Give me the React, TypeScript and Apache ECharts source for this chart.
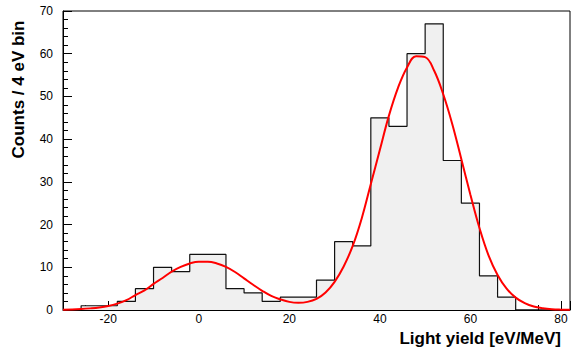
import React, { useEffect, useRef } from "react";
import * as echarts from "echarts";

// Histogram bin lower edges (4 eV bins) and counts
const binEdges = [-26, -22, -18, -14, -10, -6, -2, 2, 6, 10, 14, 18, 22, 26, 30, 34, 38, 42, 46, 50, 54, 58, 62, 66];
const binCounts = [1, 1, 2, 5, 10, 9, 13, 13, 5, 4, 2, 3, 3, 7, 16, 15, 45, 43, 60, 67, 35, 25, 8, 3];
const binWidth = 4;

// Fit curve points
const fitX = [-30, -28, -26, -24, -22, -20, -18, -16, -14, -12, -10, -8, -6, -4, -2, 0, 2, 4, 6, 8, 10, 12, 14, 16, 18, 20, 22, 24, 26, 28, 30, 32, 34, 36, 38, 40, 42, 44, 46, 48, 50, 52, 54, 56, 58, 60, 62, 64, 66, 68, 70, 72, 74, 76, 78, 80, 82];
const fitY = [0.08, 0.12, 0.22, 0.38, 0.6, 0.95, 1.5, 2.3, 3.5, 4.6, 6.1, 7.5, 9.0, 10.1, 10.9, 11.3, 11.3, 10.9, 10.1, 8.9, 7.4, 5.9, 4.5, 3.3, 2.5, 1.9, 1.7, 1.9, 2.6, 4.1, 6.6, 10.2, 15.0, 21.5, 29.5, 37.5, 45.5, 52.0, 56.8, 59.4, 59.2, 56.0, 50.5, 43.5, 35.3, 27.0, 19.2, 12.8, 8.2, 5.0, 2.9, 1.6, 0.8, 0.4, 0.18, 0.08, 0.03];

const xMin = -30;
const xMax = 82;
const yMin = 0;
const yMax = 70;

export default function App() {
  const ref = useRef<HTMLDivElement>(null);
  useEffect(() => {
    if (!ref.current) return;
    const chart = echarts.init(ref.current, undefined, { renderer: "svg" });
    const histData: number[][] = [[xMin, 0]];
    binEdges.forEach((e, i) => histData.push([e, binCounts[i]]));
    histData.push([binEdges[binEdges.length - 1] + binWidth, 0]);
    histData.push([xMax, 0]);
    const fitData = fitX.map((x, i) => [x, fitY[i]]);
    const font = "'Liberation Sans', Arial, Helvetica, sans-serif";
    chart.setOption({
      animation: false,
      backgroundColor: "#ffffff",
      grid: {
        left: 63,
        right: 1,
        top: 11,
        bottom: 38,
        show: true,
        borderColor: "#000",
        borderWidth: 1,
        backgroundColor: "transparent",
      },
      xAxis: [
        {
          type: "value",
          min: xMin,
          max: xMax,
          interval: 5,
          axisLine: { show: true, onZero: false, lineStyle: { color: "#000", width: 1 } },
          axisTick: { show: true, inside: true, length: 5, lineStyle: { color: "#000" } },
          splitLine: { show: false },
          axisLabel: {
            margin: 3,
            color: "#000",
            fontSize: 12,
            fontFamily: font,
            formatter: (v: number) => (v % 20 === 0 ? String(v) : ""),
          },
        },
        {
          type: "value",
          position: "bottom",
          min: xMin,
          max: xMax,
          axisLine: { show: false, onZero: false },
          axisTick: { show: true, inside: true, length: 9, lineStyle: { color: "#000" } },
          axisLabel: { show: false },
          splitLine: { show: false },
        },
      ],
      yAxis: {
        type: "value",
        min: yMin,
        max: yMax,
        interval: 10,
        axisLine: { show: true, onZero: false, lineStyle: { color: "#000", width: 1 } },
        axisTick: { show: true, inside: true, length: 9, lineStyle: { color: "#000" } },
        minorTick: { show: true, splitNumber: 5, length: 5, lineStyle: { color: "#000" } },
        splitLine: { show: false },
        axisLabel: { margin: 10, color: "#000", fontSize: 12, fontFamily: font },
      },
      graphic: [
        {
          type: "text",
          x: 18,
          y: 89.5,
          rotation: Math.PI / 2,
          style: {
            text: "Counts / 4 eV bin",
            fontSize: 17,
            fontWeight: "bold",
            fontFamily: font,
            fill: "#000",
            textAlign: "center",
            textVerticalAlign: "middle",
          },
        },
        {
          type: "text",
          x: 561,
          y: 338,
          style: {
            text: "Light yield [eV/MeV]",
            fontSize: 17,
            fontWeight: "bold",
            fontFamily: font,
            fill: "#000",
            textAlign: "right",
            textVerticalAlign: "middle",
          },
        },
      ],
      series: [
        {
          type: "line",
          xAxisIndex: 0,
          data: histData,
          step: "end",
          symbol: "none",
          lineStyle: { color: "#111", width: 1.2 },
          areaStyle: { color: "#f0f0f0", opacity: 1, origin: 0 },
          z: 2,
        },
        {
          type: "line",
          xAxisIndex: 0,
          data: fitData,
          smooth: 0.4,
          symbol: "none",
          lineStyle: { color: "#ff0000", width: 2 },
          z: 3,
        },
      ],
    });
    return () => chart.dispose();
  }, []);
  return <div ref={ref} style={{ width: 573, height: 348, position: "absolute", left: 0, top: 0 }} />;
}
